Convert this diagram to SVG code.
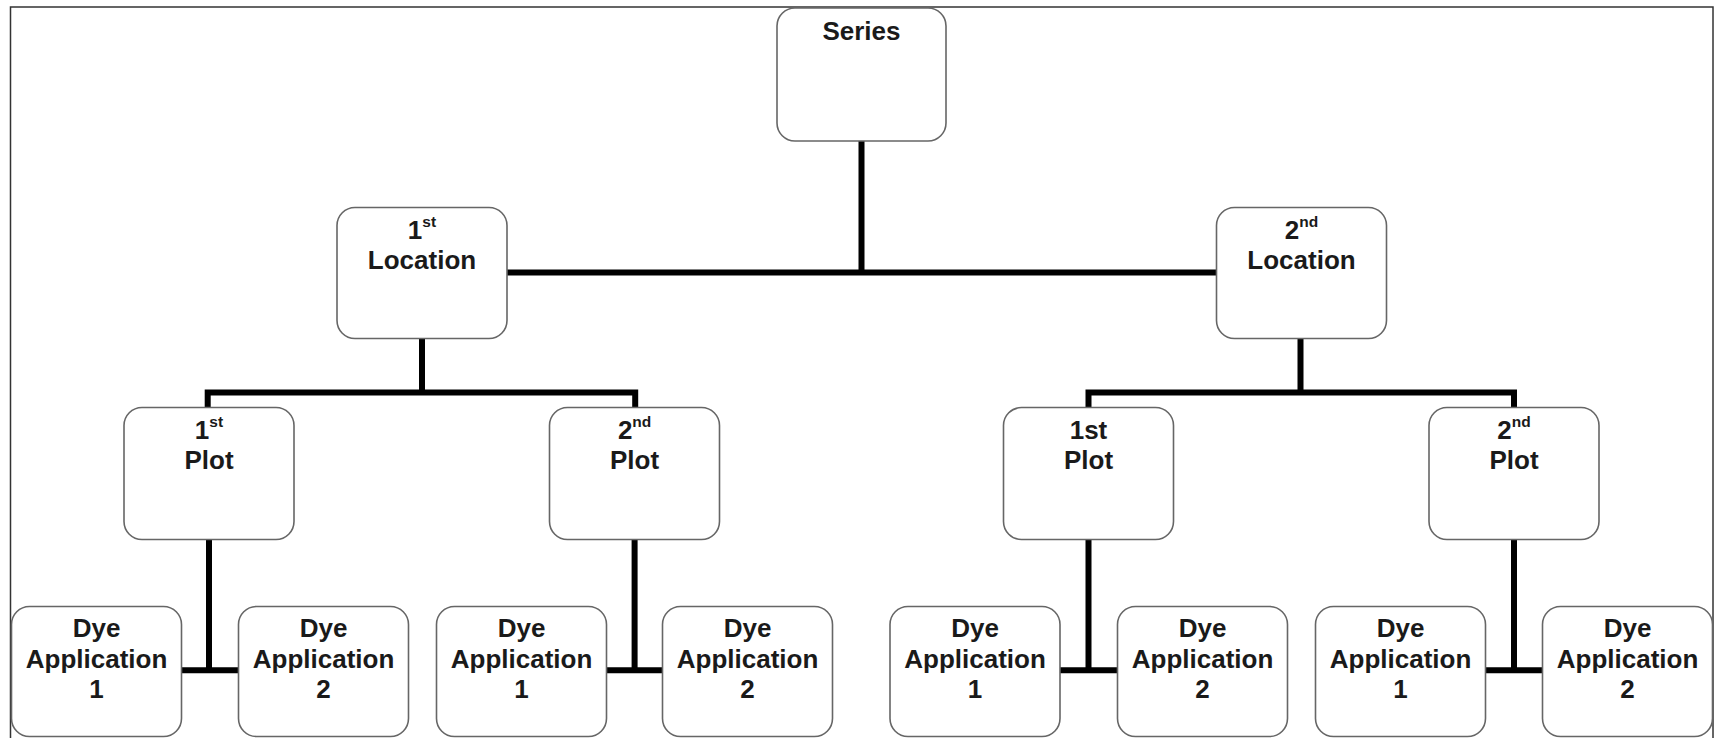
<svg xmlns="http://www.w3.org/2000/svg" width="1723" height="738" viewBox="0 0 1723 738">
<style>
.box{fill:#fff;stroke:#666;stroke-width:1.6}
.lbl{font-family:"Liberation Sans",Arial,sans-serif;font-weight:bold;font-size:26px;fill:#1a1a1a;text-anchor:middle}
.sup{font-size:15.5px}
.con{stroke:#000;stroke-width:6;fill:none;stroke-linecap:butt}
</style>
<rect x="0" y="0" width="1723" height="738" fill="#fff"/>
<rect x="10.5" y="7" width="1702.5" height="745" fill="none" stroke="#333" stroke-width="1.5"/>
<g id="connectors">
<path class="con" d="M861.5 140 V272.5 M506 272.5 H1217"/>
<path class="con" d="M422 338 V392.5 M207.7 407.5 V392.5 H635.2 V407.5"/>
<path class="con" d="M1300.5 338 V392.5 M1088.5 407.5 V392.5 H1514 V407.5"/>
<path class="con" d="M209 539 V670.3 M181 670.3 H239"/>
<path class="con" d="M634.6 539 V670.3 M606 670.3 H663"/>
<path class="con" d="M1088.5 539 V670.3 M1060 670.3 H1118"/>
<path class="con" d="M1514 539 V670.3 M1485.5 670.3 H1543"/>
</g>
<g id="series"><rect class="box" x="777" y="8" width="169" height="133" rx="18"/><text class="lbl" x="861.5" y="39.5">Series</text></g>
<g id="loc1"><rect class="box" x="337" y="207.5" width="170" height="131" rx="18"/><text class="lbl" x="422" y="238.5">1<tspan class="sup" dy="-12">st</tspan></text><text class="lbl" x="422" y="268.5">Location</text></g>
<g id="loc2"><rect class="box" x="1216.5" y="207.5" width="170" height="131" rx="18"/><text class="lbl" x="1301.5" y="238.5">2<tspan class="sup" dy="-12">nd</tspan></text><text class="lbl" x="1301.5" y="268.5">Location</text></g>
<g id="plot11"><rect class="box" x="124" y="407.5" width="170" height="132" rx="18"/><text class="lbl" x="209" y="438.5">1<tspan class="sup" dy="-12">st</tspan></text><text class="lbl" x="209" y="468.5">Plot</text></g>
<g id="plot12"><rect class="box" x="549.5" y="407.5" width="170" height="132" rx="18"/><text class="lbl" x="634.6" y="438.5">2<tspan class="sup" dy="-12">nd</tspan></text><text class="lbl" x="634.6" y="468.5">Plot</text></g>
<g id="plot21"><rect class="box" x="1003.5" y="407.5" width="170" height="132" rx="18"/><text class="lbl" x="1088.5" y="438.5">1st</text><text class="lbl" x="1088.5" y="468.5">Plot</text></g>
<g id="plot22"><rect class="box" x="1429" y="407.5" width="170" height="132" rx="18"/><text class="lbl" x="1514" y="438.5">2<tspan class="sup" dy="-12">nd</tspan></text><text class="lbl" x="1514" y="468.5">Plot</text></g>
<g id="dye111"><rect class="box" x="11.5" y="606.5" width="170" height="130" rx="18"/><text class="lbl" x="96.5" y="637">Dye</text><text class="lbl" x="96.5" y="667.5">Application</text><text class="lbl" x="96.5" y="698">1</text></g>
<g id="dye112"><rect class="box" x="238.5" y="606.5" width="170" height="130" rx="18"/><text class="lbl" x="323.5" y="637">Dye</text><text class="lbl" x="323.5" y="667.5">Application</text><text class="lbl" x="323.5" y="698">2</text></g>
<g id="dye121"><rect class="box" x="436.5" y="606.5" width="170" height="130" rx="18"/><text class="lbl" x="521.5" y="637">Dye</text><text class="lbl" x="521.5" y="667.5">Application</text><text class="lbl" x="521.5" y="698">1</text></g>
<g id="dye122"><rect class="box" x="662.5" y="606.5" width="170" height="130" rx="18"/><text class="lbl" x="747.5" y="637">Dye</text><text class="lbl" x="747.5" y="667.5">Application</text><text class="lbl" x="747.5" y="698">2</text></g>
<g id="dye211"><rect class="box" x="890" y="606.5" width="170" height="130" rx="18"/><text class="lbl" x="975" y="637">Dye</text><text class="lbl" x="975" y="667.5">Application</text><text class="lbl" x="975" y="698">1</text></g>
<g id="dye212"><rect class="box" x="1117.5" y="606.5" width="170" height="130" rx="18"/><text class="lbl" x="1202.5" y="637">Dye</text><text class="lbl" x="1202.5" y="667.5">Application</text><text class="lbl" x="1202.5" y="698">2</text></g>
<g id="dye221"><rect class="box" x="1315.5" y="606.5" width="170" height="130" rx="18"/><text class="lbl" x="1400.5" y="637">Dye</text><text class="lbl" x="1400.5" y="667.5">Application</text><text class="lbl" x="1400.5" y="698">1</text></g>
<g id="dye222"><rect class="box" x="1542.5" y="606.5" width="170" height="130" rx="18"/><text class="lbl" x="1627.5" y="637">Dye</text><text class="lbl" x="1627.5" y="667.5">Application</text><text class="lbl" x="1627.5" y="698">2</text></g>
</svg>
